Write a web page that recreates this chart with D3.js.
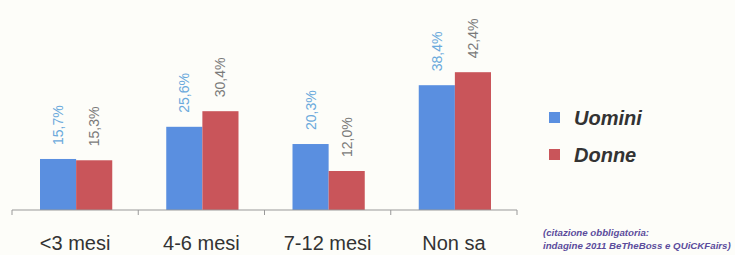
<!DOCTYPE html>
<html>
<head>
<meta charset="utf-8">
<script src="https://cdn.jsdelivr.net/npm/d3@7"></script>
<style>
  body { margin: 0; background: #fdfdf9; }
  text { font-family: Arial, "Liberation Sans", sans-serif; }
</style>
</head>
<body>
<div id="chart"></div>
<script>
var width = 735,
height = 255;

var categories = ['<3 mesi', '4-6 mesi', '7-12 mesi', 'Non sa'];
var series = ['Uomini', 'Donne'];
var uomini = [15.7, 25.6, 20.3, 38.4];
var donne = [15.3, 30.4, 12.0, 42.4];
var colors = ['#5a8fe0', '#c9555a'];
var labelColors = ['#6aa9dc', '#7a7a7a'];

const svg = d3.select('#chart').
append('svg').
attr('width', width).
attr('height', height);

const xScale = d3.scaleBand().
domain(categories).
range([12, 517]);

const inner = d3.scaleBand().
domain(series).
range([28, xScale.bandwidth() - 26]);

const yScale = d3.scaleLinear().
domain([0, 60]).
range([210, 15]);

const data = categories.map((c, i) => ({ cat: c, vals: [uomini[i], donne[i]] }));

const groups = svg.selectAll('g.cat').
data(data).
enter().
append('g').
attr('class', 'cat').
attr('transform', d => 'translate(' + xScale(d.cat) + ',0)');

groups.selectAll('rect').
data(d => d.vals.map((v, j) => ({ s: series[j], v: v, j: j }))).
enter().
append('rect').
attr('x', d => inner(d.s)).
attr('y', d => yScale(d.v)).
attr('width', inner.bandwidth()).
attr('height', d => yScale(0) - yScale(d.v)).
attr('fill', d => colors[d.j]);

groups.selectAll('text.val').
data(d => d.vals.map((v, j) => ({ s: series[j], v: v, j: j }))).
enter().
append('text').
attr('class', 'val').
attr('transform', d => 'translate(' + (inner(d.s) + inner.bandwidth() / 2 + 5) + ',' + (yScale(d.v) - 14) + ') rotate(-90)').
attr('font-size', '14px').
attr('fill', d => labelColors[d.j]).
text(d => d.v.toFixed(1).replace('.', ',') + '%');

// axis
const xAxis = d3.axisBottom(xScale).tickSize(0).tickFormat('');
const axisG = svg.append('g').
attr('transform', 'translate(0,' + yScale(0) + ')').
call(xAxis);
axisG.select('.domain').attr('stroke', '#999').attr('d', 'M12,0H517');

svg.selectAll('line.sep').
data(categories.concat(['end'])).
enter().
append('line').
attr('class', 'sep').
attr('x1', (d, i) => i < categories.length ? xScale(d) : xScale.range()[1]).
attr('x2', (d, i) => i < categories.length ? xScale(d) : xScale.range()[1]).
attr('y1', yScale(0)).
attr('y2', yScale(0) + 5).
attr('stroke', '#999');

svg.selectAll('text.cat').
data(categories).
enter().
append('text').
attr('class', 'cat').
attr('x', d => xScale(d) + xScale.bandwidth() / 2).
attr('y', 250).
attr('text-anchor', 'middle').
attr('font-size', '20px').
attr('fill', '#333').
text(d => d);

// legend
svg.selectAll('rect.leg').
data(series).
enter().
append('rect').
attr('class', 'leg').
attr('x', 549).
attr('y', (d, i) => 112 + i * 37).
attr('width', 11).
attr('height', 11).
attr('fill', (d, i) => colors[i]);

svg.selectAll('text.leg').
data(series).
enter().
append('text').
attr('class', 'leg').
attr('x', 574).
attr('y', (d, i) => 125 + i * 37).
attr('font-size', '20px').
attr('font-weight', 'bold').
attr('font-style', 'italic').
attr('fill', '#333').
text(d => d);

var note = ['(citazione obbligatoria:', 'indagine 2011 BeTheBoss e QUiCKFairs)'];
svg.selectAll('text.note').
data(note).
enter().
append('text').
attr('class', 'note').
attr('x', 543).
attr('y', (d, i) => 236 + i * 13).
attr('font-size', '9.7px').
attr('font-weight', 'bold').
attr('font-style', 'italic').
attr('fill', '#5b4c9c').
text(d => d);
</script>
</body>
</html>
